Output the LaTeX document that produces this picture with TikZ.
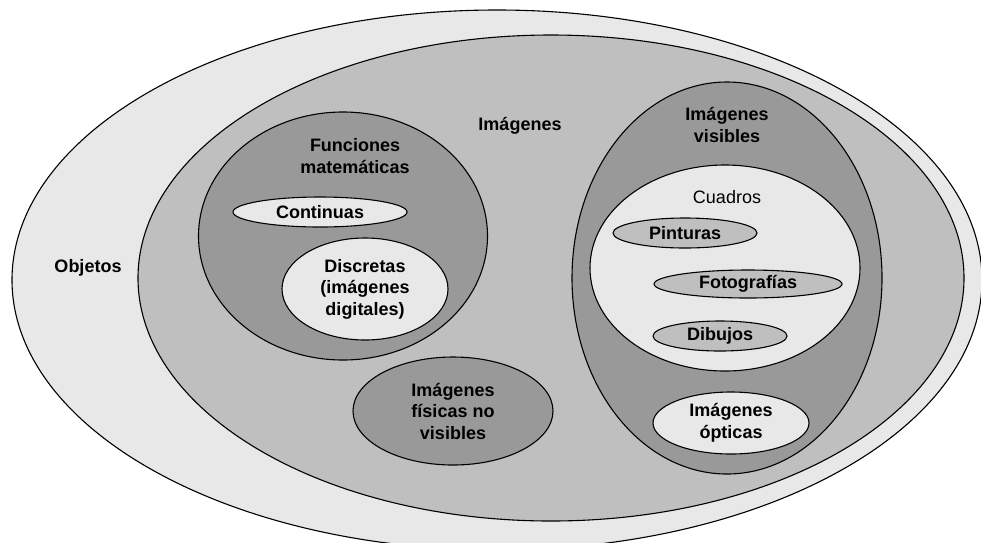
\documentclass[tikz,border=0pt]{standalone}
\usepackage{fontspec}
\setmainfont{Liberation Sans}
\usetikzlibrary{shapes.geometric}
\definecolor{pale}{gray}{0.91}
\definecolor{mid}{gray}{0.75}
\definecolor{dark}{gray}{0.60}

\begin{document}
\begin{tikzpicture}[
            x=1pt, y=-1pt,
            set/.style={ellipse, draw, line width=1.1pt, inner sep=0pt, font=\fontsize{18}{21.5}\selectfont\bfseries, align=center},
            txt/.style={font=\fontsize{18}{21.5}\selectfont\bfseries, align=center}
        ]
            \fill[white] (0,0) rectangle (981,542);
            \clip (0,0) rectangle (981,542);

            % Sets
            \node[set, fill=pale, minimum width=970pt, minimum height=540pt] (objetos) at (497,280) {};
            \node[set, fill=mid, minimum width=826pt, minimum height=486pt] (imagenes) at (551,278) {};
            \node[set, fill=dark, minimum width=289pt, minimum height=248pt] (funciones) at (343,236) {};
            \node[set, fill=pale, minimum width=174pt, minimum height=30pt] (continuas) at (320,212) {Continuas};
            \node[set, fill=pale, minimum width=166pt, minimum height=102pt] (discretas) at (365,289) {Discretas\\(imágenes\\digitales)};
            \node[set, fill=dark, minimum width=200pt, minimum height=108pt] (fisicas) at (453,411) {Imágenes\\físicas no\\visibles};
            \node[set, fill=dark, minimum width=310pt, minimum height=392pt] (visibles) at (727,278) {};
            \node[set, fill=pale, minimum width=270pt, minimum height=206pt] (cuadros) at (725,268) {};
            \node[set, fill=mid, minimum width=144pt, minimum height=30pt] (pinturas) at (685,233) {Pinturas};
            \node[set, fill=mid, minimum width=188pt, minimum height=28pt] (fotos) at (748,284) {Fotografías};
            \node[set, fill=mid, minimum width=134pt, minimum height=30pt] (dibujos) at (720,336) {Dibujos};
            \node[set, fill=pale, minimum width=156pt, minimum height=62pt] (opticas) at (731,423) {Imágenes\\ópticas};

            % Labels
            \node[txt] (lobjetos) at (88,268) {Objetos};
            \node[txt] (limagenes) at (520,126) {Imágenes};
            \node[txt] (lfunciones) at (355,156) {Funciones\\matemáticas};
            \node[txt] (lvisibles) at (727,125) {Imágenes\\visibles};
            \node[txt, font=\fontsize{18}{21.5}\selectfont] (lcuadros) at (727,197) {Cuadros};
        \end{tikzpicture}
\end{document}
